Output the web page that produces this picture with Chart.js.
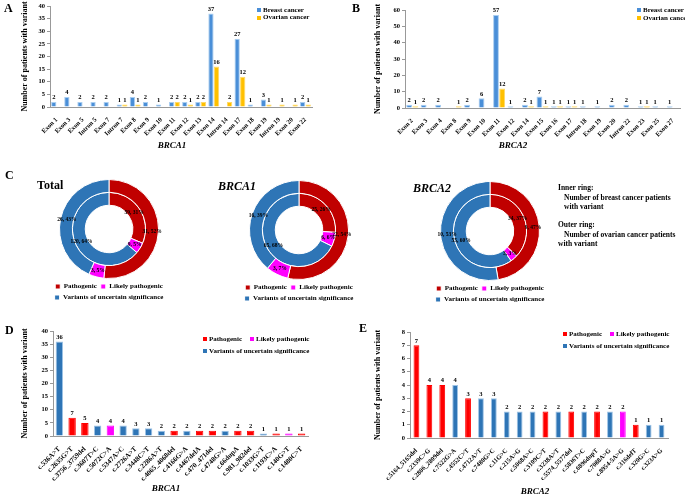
<!DOCTYPE html>
<html>
<head>
<meta charset="utf-8">
<script src="https://cdn.jsdelivr.net/npm/chart.js@4.4.1/dist/chart.umd.min.js"></script>
<style>
  body { margin: 0; background: #fff; }
  #fig { position: relative; width: 685px; height: 497px; overflow: hidden; background: #fff;
         font-family: 'Liberation Serif', 'Times New Roman', serif; font-weight: bold; color: #000; }
  #fig canvas { position: absolute; }
  .t { position: absolute; white-space: pre; line-height: 1; }
  .mk { position: absolute; width: 4px; height: 4px; }
</style>
</head>
<body>
<div id="fig"></div>
<script>
// A: BRCA1 variants by exon
const exonsBRCA1 = ['Exon 1', 'Exon 3', 'Exon 5', 'Intron 5', 'Exon 7', 'Intron 7', 'Exon 8', 'Exon 9', 'Exon 10', 'Exon 11',
  'Exon 12', 'Exon 13', 'Exon 14', 'Intron 14', 'Exon 17', 'Exon 18', 'Exon 19', 'Intron 19', 'Exon 20', 'Exon 22'];
const breastBRCA1 = [2, 4, 2, 2, 2, 1, 4, 2, 1, 2, 2, 2, 37, null, 27, 1, 3, null, null, 2];
const ovarianBRCA1 = [null, null, null, null, null, 1, 1, null, null, 2, 1, 2, 16, 2, 12, null, 1, 1, 1, 1];

// B: BRCA2 variants by exon
const exonsBRCA2 = ['Exon 2', 'Exon 3', 'Exon 4', 'Exon 8', 'Exon 9', 'Exon 10', 'Exon 11', 'Exon 12', 'Exon 14', 'Exon 15',
  'Exon 16', 'Exon 17', 'Intron 18', 'Exon 19', 'Exon 20', 'Intron 22', 'Exon 23', 'Exon 25', 'Exon 27'];
const breastBRCA2 = [2, 2, 2, null, 2, 6, 57, 1, 2, 7, 1, 1, 1, 1, 2, 2, 1, 1, 1];
const ovarianBRCA2 = [1, null, null, 1, null, null, 12, null, 1, 1, 1, 1, null, null, null, null, 1, null, null];

// C: classification rings (inner = breast, outer = ovarian)
const classes = ['Pathogenic', 'Likely pathogenic', 'Variants of uncertain significance'];
const innerTotal = [59, 9, 120];
const outerTotal = [31, 3, 26];
const innerBRCA1 = [25, 6, 65];
const outerBRCA1 = [22, 3, 16];
const innerBRCA2 = [34, 3, 55];
const outerBRCA2 = [9, 0, 10];

// D: BRCA1 variants (class index into classes)
const variantsBRCA1 = ['c.536A>T', 'c.2635G>T', 'c.3756_3759del', 'c.3607T>C', 'c.5072C>A', 'c.5347A>C', 'c.2726A>T',
  'c.3448C>T', 'c.2286A>T', 'c.4065_4068del', 'c.4166G>A', 'c.4467delA', 'c.470_471del', 'c.4748G>A', 'c.66dupA',
  'c.981_982del', 'c.1033G>T', 'c.1193C>A', 'c.140G>T', 'c.1480C>T'];
const countsBRCA1 = [36, 7, 5, 4, 4, 4, 3, 3, 2, 2, 2, 2, 2, 2, 2, 2, 1, 1, 1, 1];
const classBRCA1 = [2, 0, 0, 2, 1, 2, 2, 2, 2, 0, 2, 0, 0, 2, 0, 0, 2, 0, 1, 0];

// E: BRCA2 variants
const variantsBRCA2 = ['c.5164_5165del', 'c.2339C>G', 'c.2806_2809del', 'c.7522G>A', 'c.4552C>T', 'c.4712A>T', 'c.7480G>C',
  'c.11G>C', 'c.215A>G', 'c.5068A>C', 'c.3109C>T', 'c.3238A>T', 'c.5574_5577del', 'c.5836T>C', 'c.6896dupT',
  'c.7088A>G', 'c.8954-5A>G', 'c.316delT', 'c.320G>C', 'c.323A>G'];
const countsBRCA2 = [7, 4, 4, 4, 3, 3, 3, 2, 2, 2, 2, 2, 2, 2, 2, 2, 2, 1, 1, 1];
const classBRCA2 = [0, 0, 0, 2, 0, 2, 2, 2, 2, 2, 0, 2, 0, 2, 0, 2, 1, 0, 2, 2];

const BLUE = '#4A8FD8', YELLOW = '#FFC000';
const barColors = ['#FF0000', '#FF00FF', '#2E75B6'];
const pieColors = ['#C00000', '#FF00FF', '#2E75B6'];
const SERIF = "'Liberation Serif', 'Times New Roman', serif";

Chart.defaults.font.family = SERIF;
Chart.defaults.color = '#000';

const fig = document.getElementById('fig');

function addText(str, x, y, size, opts = {}) {
  const d = document.createElement('div');
  d.className = 't';
  d.textContent = str;
  d.style.fontSize = size + 'px';
  d.style.left = x + 'px';
  d.style.top = (y - size / 2) + 'px';
  if (opts.italic) d.style.fontStyle = 'italic';
  if (opts.center) d.style.transform = 'translateX(-50%)';
  fig.appendChild(d);
}

function addLegendItem(text, color, x, y) {
  const m = document.createElement('div');
  m.className = 'mk';
  m.style.background = color;
  m.style.left = x + 'px';
  m.style.top = (y - 2) + 'px';
  fig.appendChild(m);
  addText(text, x + 6, y, 7);
}

function addCanvas(x, y, w, h) {
  const c = document.createElement('canvas');
  c.width = w; c.height = h;
  c.style.left = x + 'px'; c.style.top = y + 'px';
  c.style.width = w + 'px'; c.style.height = h + 'px';
  fig.appendChild(c);
  return c;
}

// numbers above the bars
const valueLabels = {
  id: 'valueLabels',
  afterDatasetsDraw(chart) {
    const ctx = chart.ctx;
    ctx.save();
    ctx.font = 'bold 6.5px ' + SERIF;
    ctx.fillStyle = '#000';
    ctx.textAlign = 'center';
    ctx.textBaseline = 'bottom';
    chart.data.datasets.forEach((ds, i) => {
      chart.getDatasetMeta(i).data.forEach((bar, j) => {
        const v = ds.data[j];
        if (v == null) return;
        ctx.fillText(v, bar.x, bar.y - 1);
      });
    });
    ctx.restore();
  }
};

// "n, p%" on each ring segment
const pieLabels = {
  id: 'pieLabels',
  afterDatasetsDraw(chart) {
    const ctx = chart.ctx;
    ctx.save();
    ctx.font = 'bold 5.5px ' + SERIF;
    ctx.fillStyle = '#000';
    ctx.textAlign = 'center';
    ctx.textBaseline = 'middle';
    chart.data.datasets.forEach((ds, i) => {
      const sum = ds.data.reduce((a, b) => a + b, 0);
      chart.getDatasetMeta(i).data.forEach((arc, j) => {
        const v = ds.data[j];
        if (!v) return;
        const p = arc.tooltipPosition();
        ctx.fillText(v + ', ' + Math.round(v / sum * 100) + '%', p.x, p.y);
      });
    });
    ctx.restore();
  }
};

function scales(o) {
  return {
    x: {
      grid: { display: false },
      border: { color: '#999' },
      ticks: { autoSkip: false, minRotation: 45, maxRotation: 45, padding: 1,
        font: { size: o.fs, weight: 'bold' }, color: '#000' },
      afterFit: s => { s.height = o.xh; }
    },
    y: {
      min: 0, max: o.max,
      ticks: { stepSize: o.step, padding: 2, font: { size: 6.5, weight: 'bold' }, color: '#000' },
      grid: { drawOnChartArea: false, tickLength: 3, color: '#999' },
      border: { color: '#999' },
      title: { display: true, text: 'Number of patients with variant', color: '#000',
        font: { size: 8, weight: 'bold' }, padding: { top: o.tp, bottom: 0 } },
      afterFit: s => { s.width = o.yw; }
    }
  };
}

function groupedBars(canvas, labels, breast, ovarian, o) {
  return new Chart(canvas, {
    type: 'bar',
    data: {
      labels: labels,
      datasets: [
        { label: 'Breast cancer', data: breast, backgroundColor: BLUE, borderColor: '#A9CDF0', borderWidth: 1 },
        { label: 'Ovarian cancer', data: ovarian, backgroundColor: YELLOW, borderColor: '#FFD966', borderWidth: 1 }
      ]
    },
    options: {
      responsive: false, animation: false,
      categoryPercentage: 0.85, barPercentage: 0.95,
      layout: { padding: o.pad },
      plugins: { legend: { display: false }, tooltip: { enabled: false } },
      scales: scales(o)
    },
    plugins: [valueLabels]
  });
}

function variantBars(canvas, labels, counts, cls, o) {
  return new Chart(canvas, {
    type: 'bar',
    data: {
      labels: labels,
      datasets: [{
        data: counts,
        backgroundColor: cls.map(c => barColors[c]),
        borderColor: cls.map(c => c === 2 ? '#9DC3E6' : barColors[c]),
        borderWidth: 1
      }]
    },
    options: {
      responsive: false, animation: false,
      categoryPercentage: 1, barPercentage: o.bp,
      layout: { padding: o.pad },
      plugins: { legend: { display: false }, tooltip: { enabled: false } },
      scales: scales(o)
    },
    plugins: [valueLabels]
  });
}

function rings(canvas, inner, outer) {
  return new Chart(canvas, {
    type: 'doughnut',
    data: {
      labels: classes,
      datasets: [
        { data: outer, backgroundColor: pieColors, borderColor: '#fff', borderWidth: 1 },
        { data: inner, backgroundColor: pieColors, borderColor: '#fff', borderWidth: 1 }
      ]
    },
    options: {
      responsive: false, animation: false,
      cutout: '48%',
      layout: { padding: 0 },
      plugins: {
        legend: { position: 'bottom',
          labels: { boxWidth: 5, boxHeight: 5, padding: 4, color: '#000', font: { size: 7, weight: 'bold' } } },
        tooltip: { enabled: false }
      }
    },
    plugins: [pieLabels]
  });
}

// ---- panel A
groupedBars(addCanvas(0, 0, 340, 150), exonsBRCA1, breastBRCA1, ovarianBRCA1,
  { max: 40, step: 5, yw: 50, xh: 43, tp: 20, fs: 6.5, pad: { left: 0, right: 28, top: 6, bottom: 0 } });
addText('A', 4, 8, 12);
addText('BRCA1', 172, 145, 9, { italic: true, center: true });
addLegendItem('Breast cancer', BLUE, 257, 10);
addLegendItem('Ovarian cancer', YELLOW, 257, 17.5);

// ---- panel B
groupedBars(addCanvas(340, 0, 345, 150), exonsBRCA2, breastBRCA2, ovarianBRCA2,
  { max: 60, step: 10, yw: 65, xh: 42, tp: 33, fs: 6.5, pad: { left: 0, right: 5, top: 10, bottom: 0 } });
addText('B', 352, 8, 12);
addText('BRCA2', 513, 145, 9, { italic: true, center: true });
addLegendItem('Breast cancer', BLUE, 637, 10);
addLegendItem('Ovarian cancer', YELLOW, 637, 18);

// ---- panel C
rings(addCanvas(44, 179, 130, 132), innerTotal, outerTotal);
rings(addCanvas(234, 180, 130, 132), innerBRCA1, outerBRCA1);
rings(addCanvas(425, 181, 130, 132), innerBRCA2, outerBRCA2);
addText('C', 5, 175, 12);
addText('Total', 37, 185, 12);
addText('BRCA1', 218, 186, 12, { italic: true });
addText('BRCA2', 413, 188, 12, { italic: true });
addText('Inner ring:', 558, 188, 7.5);
addText('Number of breast cancer patients', 564, 197.5, 7.5);
addText('with variant', 564, 207, 7.5);
addText('Outer ring:', 558, 225, 7.5);
addText('Number of ovarian cancer patients', 564, 234.5, 7.5);
addText('with variant', 558, 244, 7.5);

// ---- panel D
variantBars(addCanvas(0, 300, 340, 197), variantsBRCA1, countsBRCA1, classBRCA1,
  { max: 40, step: 5, yw: 53, xh: 61, tp: 20, fs: 7, bp: 0.58, pad: { left: 0, right: 32, top: 31, bottom: 0 } });
addText('D', 5, 330, 12);
addText('BRCA1', 166, 488, 9, { italic: true, center: true });
addLegendItem(classes[0], barColors[0], 203, 339);
addLegendItem(classes[1], barColors[1], 250, 339);
addLegendItem(classes[2], barColors[2], 203, 351);

// ---- panel E
variantBars(addCanvas(340, 300, 345, 197), variantsBRCA2, countsBRCA2, classBRCA2,
  { max: 8, step: 1, yw: 70, xh: 59, tp: 33, fs: 6.5, bp: 0.45, pad: { left: 0, right: 17, top: 32, bottom: 0 } });
addText('E', 359, 328, 12);
addText('BRCA2', 535, 491, 9, { italic: true, center: true });
addLegendItem(classes[0], barColors[0], 563, 334);
addLegendItem(classes[1], barColors[1], 610, 334);
addLegendItem(classes[2], barColors[2], 563, 346);
</script>
</body>
</html>
